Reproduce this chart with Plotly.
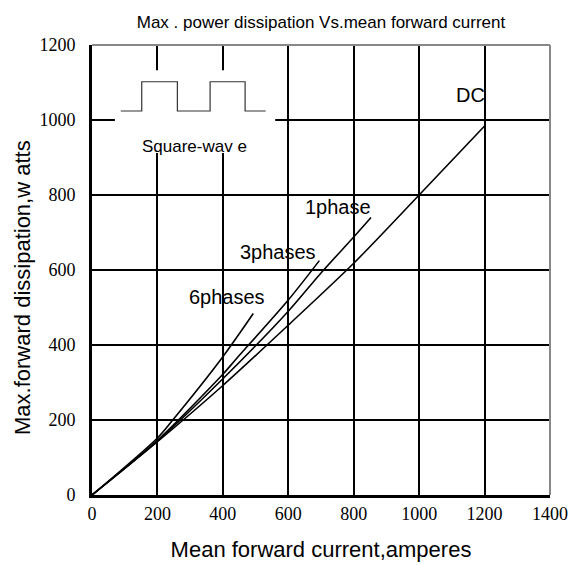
import plotly.graph_objects as go

# ---- data ----
dc_x = [0, 200, 400, 600, 800, 1000, 1200]
dc_y = [0, 142, 292, 453, 618, 800, 984]

ph1_x = [0, 200, 400, 600, 700, 800, 853]
ph1_y = [0, 144, 310, 490, 592, 688, 740]

ph3_x = [0, 200, 400, 442, 600, 695]
ph3_y = [0, 146, 322, 364, 520, 625]

ph6_x = [0, 200, 245, 396, 493]
ph6_y = [0, 152, 198, 364, 484]

series_names = ["DC", "1phase", "3phases", "6phases"]
label_pos = {"DC": (1158, 1067), "1phase": (753, 767), "3phases": (570, 649), "6phases": (412, 527)}

# square-wave inset (decorative sketch, in data units)
sq_x = [88, 152, 152, 261, 261, 361, 361, 468, 468, 531]
sq_y = [1024, 1024, 1102, 1102, 1024, 1024, 1102, 1102, 1024, 1024]

x_ticks = [0, 200, 400, 600, 800, 1000, 1200, 1400]
y_ticks = [0, 200, 400, 600, 800, 1000, 1200]

title_text = "Max . power dissipation Vs.mean forward current"
x_title = "Mean forward current,amperes"
y_title = "Max.forward dissipation,w atts"

SERIF = "Liberation Serif, Times New Roman, DejaVu Serif, serif"
SANS = "Liberation Sans, Arial, sans-serif"

fig = go.Figure()
for name, xs, ys in [("DC", dc_x, dc_y), ("1phase", ph1_x, ph1_y),
                     ("3phases", ph3_x, ph3_y), ("6phases", ph6_x, ph6_y)]:
    fig.add_trace(go.Scatter(x=xs, y=ys, mode="lines", name=name,
                             line=dict(color="black", width=1.6, shape="spline", smoothing=0.8),
                             showlegend=False, hoverinfo="skip"))

# white box behind square-wave inset (covers gridlines, below traces)
fig.add_shape(type="rect", x0=70, x1=560, y0=912, y1=1133, xref="x", yref="y",
              fillcolor="white", line=dict(width=0), layer="between")
fig.add_trace(go.Scatter(x=sq_x, y=sq_y, mode="lines",
                         line=dict(color="#333333", width=1.2),
                         showlegend=False, hoverinfo="skip"))
fig.add_annotation(x=312, y=929, xref="x", yref="y", text="Square-wav e", showarrow=False,
                   font=dict(family=SANS, size=17, color="black"))

for name in series_names:
    lx, ly = label_pos[name]
    fig.add_annotation(x=lx, y=ly, xref="x", yref="y", text=name, showarrow=False,
                       font=dict(family=SANS, size=20, color="black"))

# y-axis title (placed as rotated annotation to match position)
fig.add_annotation(x=(22 - 92) / 458, y=(495 - 288) / 450, xref="paper", yref="paper",
                   text=y_title, textangle=-90, showarrow=False,
                   xanchor="center", yanchor="middle",
                   font=dict(family=SANS, size=22, color="black"))

# top/right gray border
fig.add_shape(type="line", xref="paper", yref="paper", x0=0, x1=1, y0=1, y1=1,
              line=dict(color="#888888", width=2), layer="above")
fig.add_shape(type="line", xref="paper", yref="paper", x0=1, x1=1, y0=0, y1=1,
              line=dict(color="#888888", width=2), layer="above")

fig.update_layout(
    width=576, height=565,
    margin=dict(l=92, r=26, t=45, b=70, autoexpand=False),
    paper_bgcolor="white", plot_bgcolor="white",
    title=dict(text=title_text, x=321 / 576, xanchor="center", y=1 - 22 / 565, yanchor="middle",
               font=dict(family=SANS, size=17, color="black")),
    xaxis=dict(range=[0, 1400], tickvals=x_ticks, ticktext=[str(v) for v in x_ticks],
               showgrid=True, gridcolor="black", gridwidth=2, zeroline=False,
               showline=True, linecolor="black", linewidth=3, ticks="",
               automargin=False,
               tickfont=dict(family=SERIF, size=18, color="black"),
               title=dict(text=x_title, font=dict(family=SANS, size=22, color="black"),
                          standoff=20)),
    yaxis=dict(range=[0, 1200], tickvals=y_ticks, ticktext=[str(v) for v in y_ticks],
               showgrid=True, gridcolor="black", gridwidth=2, zeroline=False,
               showline=True, linecolor="black", linewidth=3, ticks="",
               ticklabelstandoff=10, automargin=False,
               tickfont=dict(family=SERIF, size=18, color="black")),
)

fig.write_html("out.html", config={"displayModeBar": False},
               post_script="document.body.style.margin='0';document.body.style.overflow='hidden';")
